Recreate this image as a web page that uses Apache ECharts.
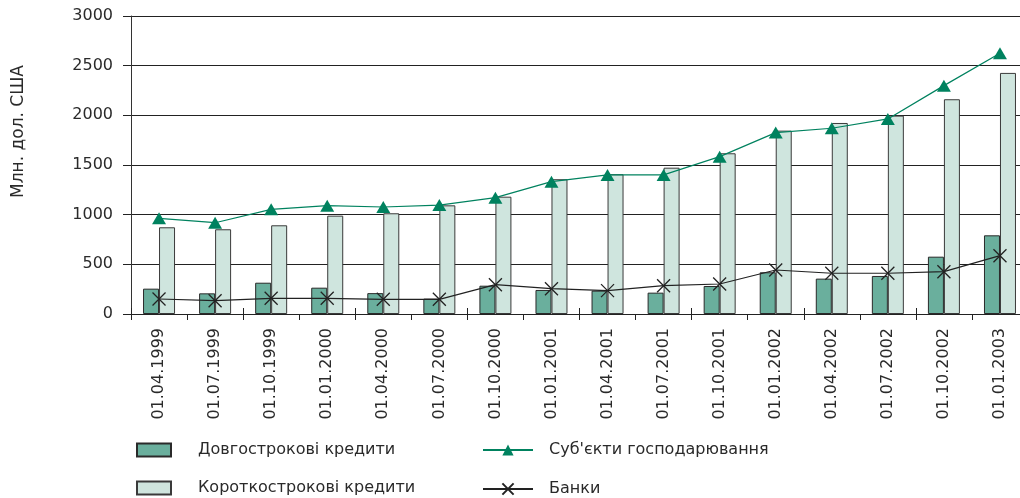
<!DOCTYPE html>
<html>
<head>
<meta charset="utf-8">
<script src="https://cdn.jsdelivr.net/npm/echarts@6/dist/echarts.min.js"></script>
<style>
html,body{margin:0;padding:0;background:#fff;}
#c{width:1020px;height:498px;}
</style>
</head>
<body>
<div id="c"></div>
<script>
const categories = ['01.04.1999','01.07.1999','01.10.1999','01.01.2000','01.04.2000','01.07.2000','01.10.2000','01.01.2001','01.04.2001','01.07.2001','01.10.2001','01.01.2002','01.04.2002','01.07.2002','01.10.2002','01.01.2003'];
const longTerm  = [255, 208, 315, 265, 210, 155, 285, 242, 235, 215, 282, 420, 356, 383, 577, 792];
const shortTerm = [873, 853, 893, 990, 1014, 1094, 1181, 1357, 1407, 1473, 1618, 1846, 1923, 1997, 2162, 2427];
const enterprises = [963, 919, 1054, 1091, 1077, 1097, 1171, 1332, 1400, 1400, 1584, 1826, 1870, 1964, 2299, 2625];
const banks = [151, 134, 158, 158, 148, 148, 295, 255, 235, 285, 302, 443, 410, 410, 426, 587];
const yTicks = [0, 500, 1000, 1500, 2000, 2500, 3000];
const names = ['Довгострокові кредити', 'Короткострокові кредити', 'Суб\'єкти господарювання', 'Банки'];

const FONT = 'DejaVu Sans, Liberation Sans, sans-serif';
const TXT = '#2a2a2a';
function legendItem(name, left, top, isBar) {
  return {
    data: [name], left: left, top: top, padding: 0,
    icon: isBar ? 'rect' : undefined,
    itemWidth: isBar ? 34 : 50, itemHeight: isBar ? 13 : 14,
    textStyle: {fontSize: 16, color: TXT, fontFamily: FONT,
      padding: [0, 0, 0, isBar ? 22 : 11]},
    selectedMode: false
  };
}
const chart = echarts.init(document.getElementById('c'), null, {renderer: 'canvas'});
chart.setOption({
  animation: false,
  backgroundColor: '#fff',
  textStyle: {fontFamily: FONT},
  grid: {left: 131, top: 16, width: 897, height: 298, containLabel: false, outerBoundsMode: 'none'},
  legend: [
    legendItem(names[0], 136, 442, true),
    legendItem(names[1], 136, 480, true),
    legendItem(names[2], 482, 442, false),
    legendItem(names[3], 482, 481, false)
  ],
  graphic: [{
    type: 'text', left: 10, top: 65, rotation: Math.PI / 2,
    style: {text: 'Млн. дол. США', fontSize: 17, fill: TXT, fontFamily: FONT}
  }],
  xAxis: [
    {
      type: 'category', data: categories, boundaryGap: true,
      axisLine: {show: true, lineStyle: {color: '#222', width: 1}},
      axisTick: {show: true, length: 6, alignWithLabel: false, lineStyle: {color: '#222'}},
      axisLabel: {rotate: 90, margin: 14, fontSize: 16, color: TXT, fontFamily: FONT, interval: 0},
      splitLine: {show: false}
    },
    {
      type: 'category', data: categories, boundaryGap: true, position: 'bottom',
      axisLine: {show: false},
      axisTick: {show: true, inside: true, length: 6, lineStyle: {color: '#222'}},
      axisLabel: {show: false}
    }
  ],
  yAxis: {
    type: 'value', min: 0, max: 3000, interval: 500,
    axisLine: {show: true, lineStyle: {color: '#333', width: 1}},
    axisTick: {show: true, length: 8, lineStyle: {color: '#222'}},
    axisLabel: {fontSize: 16, color: TXT, margin: 18, fontFamily: FONT,
      customValues: yTicks, formatter: v => String(v)},
    splitLine: {show: true, lineStyle: {color: '#222', width: 1}}
  },
  series: [
    {
      name: names[0], type: 'bar', data: longTerm, barWidth: 16, barGap: '0%',
      itemStyle: {color: '#6aaf9d', borderColor: '#2a2a2a', borderWidth: 1}
    },
    {
      name: names[1], type: 'bar', data: shortTerm, barWidth: 16, barGap: '0%',
      itemStyle: {color: '#cfe5de', borderColor: '#3a3a3a', borderWidth: 1}
    },
    {
      name: names[2], type: 'line', data: enterprises, z: 5,
      symbol: 'triangle', symbolSize: [14, 12],
      lineStyle: {color: '#00825f', width: 1.2},
      itemStyle: {color: '#00825f'}
    },
    {
      name: names[3], type: 'line', data: banks, z: 5,
      symbol: 'path://M0,0L10,10M10,0L0,10', symbolSize: 13,
      lineStyle: {color: '#222', width: 1.2},
      itemStyle: {color: '#222', borderColor: '#222', borderWidth: 1.3}
    }
  ]
});
</script>
</body>
</html>
